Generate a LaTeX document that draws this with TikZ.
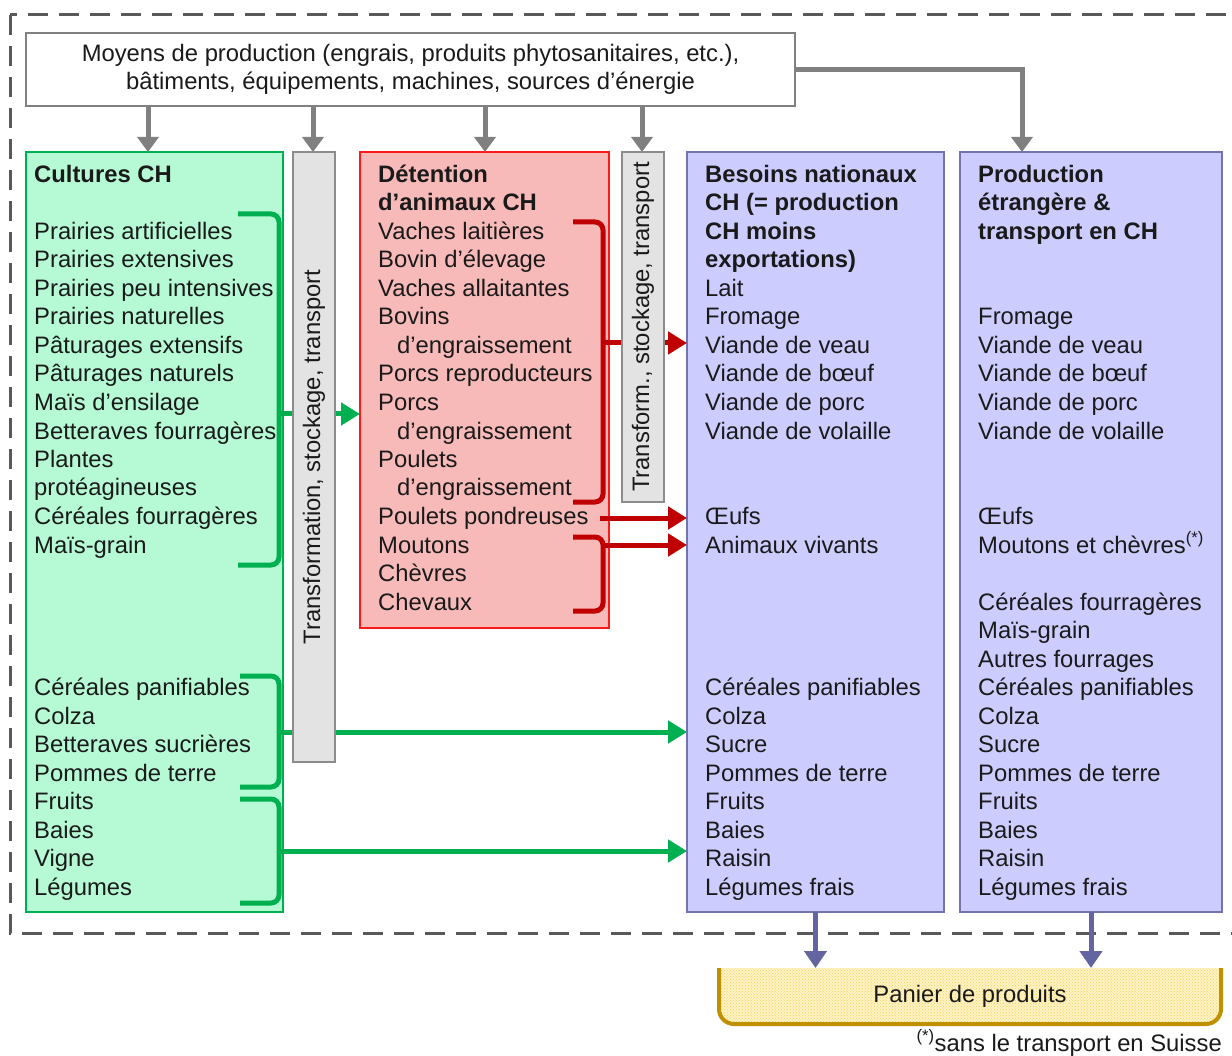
\documentclass[tikz,border=0pt]{standalone}
\usepackage{fontspec}
\setmainfont{Liberation Sans}
\usetikzlibrary{arrows.meta,patterns}
\definecolor{txtc}{HTML}{1A1A1A}
\definecolor{framec}{HTML}{595959}
\definecolor{grayarr}{HTML}{808080}
\definecolor{mint}{HTML}{B6FAD5}
\definecolor{greenl}{HTML}{00B050}
\definecolor{pinkf}{HTML}{F8B9B9}
\definecolor{redb}{HTML}{FF1A1A}
\definecolor{redl}{HTML}{C00000}
\definecolor{bluef}{HTML}{CCCCFF}
\definecolor{blueb}{HTML}{7373AD}
\definecolor{bluea}{HTML}{6464A0}
\definecolor{grayf}{HTML}{E3E3E3}
\definecolor{grayb}{HTML}{8C8C8C}
\definecolor{basketf}{HTML}{FFF3C4}
\definecolor{basketd}{HTML}{F5CF5A}
\definecolor{basketl}{HTML}{BF9000}
\newcommand{\itfont}{\fontsize{23.8}{28.5}\selectfont}
\tikzset{
  item/.style={font=\itfont, text=txtc, inner sep=0pt, anchor=base west},
  itembf/.style={item, font=\itfont\bfseries},
  boxn/.style={inner sep=0pt, outer sep=0pt, anchor=north west, line width=1.6pt},
  garrow/.style={draw=grayarr, line width=5pt, -{Triangle[length=15pt,width=21pt]}},
  rarrow/.style={draw=redl, line width=5pt, -{Triangle[length=19pt,width=22pt]}},
  grarrow/.style={draw=greenl, line width=5pt, -{Triangle[length=19pt,width=22pt]}},
  barrow/.style={draw=bluea, line width=5pt, -{Triangle[length=17pt,width=22pt]}},
  gbrk/.style={draw=greenl, line width=5pt, rounded corners=8pt},
  rbrk/.style={draw=redl, line width=5pt, rounded corners=8pt},
  tbox/.style={boxn, draw=grayb, fill=grayf}
}
\begin{document}
\begin{tikzpicture}[x=1pt,y=-1pt]
\useasboundingbox (0,0) rectangle (1232,1056);
\fill[white] (0,0) rectangle (1232,1056);
% dashed frame
\draw[framec, line width=3pt, dash pattern=on 20pt off 11pt] (10,15) rectangle (1250,933);

% top box
\node[draw=grayarr, line width=1.6pt, fill=white, minimum width=769pt, minimum height=73pt, inner sep=0pt,
      align=center, font=\fontsize{23.8}{28}\selectfont, text=txtc] (top) at (410.5,69.5)
  {Moyens de production (engrais, produits phytosanitaires, etc.),\\bâtiments, équipements, machines, sources d’énergie};

% main boxes
\node[boxn, draw=greenl, fill=mint, minimum width=257pt, minimum height=760pt] (cult) at (26,152) {};
\node[boxn, draw=redb, fill=pinkf, minimum width=249pt, minimum height=476pt] (anim) at (360,152) {};
\node[boxn, draw=blueb, fill=bluef, minimum width=257pt, minimum height=760pt] (bes) at (687,152) {};
\node[boxn, draw=blueb, fill=bluef, minimum width=262pt, minimum height=760pt] (etr) at (960,152) {};

% gray arrows from top
\draw[garrow] (148,0 |- top.south) -- (148,0 |- cult.north);
\draw[garrow] (313,0 |- top.south) -- (313,0 |- cult.north);
\draw[garrow] (485,0 |- top.south) -- (485,0 |- anim.north);
\draw[garrow] (642,0 |- top.south) -- (642,0 |- anim.north);
\draw[garrow] (top.east) -| (1022,0 |- etr.north);

% texts: Cultures CH
\node[itembf] (cuT) at (34,{182.5}) {Cultures CH};
\foreach \r/\lbl in {2/Prairies artificielles, 3/Prairies extensives, 4/Prairies peu intensives,
  5/Prairies naturelles, 6/Pâturages extensifs, 7/Pâturages naturels, 8/Maïs d’ensilage,
  9/Betteraves fourragères, 10/Plantes, 11/protéagineuses, 12/Céréales fourragères, 13/Maïs-grain,
  18/Céréales panifiables, 19/Colza, 20/Betteraves sucrières, 21/Pommes de terre, 22/Fruits,
  23/Baies, 24/Vigne, 25/Légumes}
  \node[item] (cu\r) at (34,{182.5+28.5*\r}) {\lbl};

% texts: animaux
\node[itembf] (anT1) at (378,{182.5}) {Détention};
\node[itembf] (anT2) at (378,{182.5+28.5}) {d’animaux CH};
\foreach \r/\xx/\lbl in {2/378/Vaches laitières, 3/378/Bovin d’élevage, 4/378/Vaches allaitantes,
  5/378/Bovins, 6/397/d’engraissement, 7/378/Porcs reproducteurs, 8/378/Porcs, 9/397/d’engraissement,
  10/378/Poulets, 11/397/d’engraissement, 12/378/Poulets pondreuses, 13/378/Moutons,
  14/378/Chèvres, 15/378/Chevaux}
  \node[item] (an\r) at (\xx,{182.5+28.5*\r}) {\lbl};

% texts: besoins
\foreach \r/\lbl in {0/Besoins nationaux, 1/CH (= production, 2/CH moins, 3/exportations)}
  \node[itembf] (beT\r) at (705,{182.5+28.5*\r}) {\lbl};
\foreach \r/\lbl in {4/Lait, 5/Fromage, 6/Viande de veau, 7/Viande de bœuf, 8/Viande de porc,
  9/Viande de volaille, 12/Œufs, 13/Animaux vivants, 18/Céréales panifiables, 19/Colza,
  20/Sucre, 21/Pommes de terre, 22/Fruits, 23/Baies, 24/Raisin, 25/Légumes frais}
  \node[item] (be\r) at (705,{182.5+28.5*\r}) {\lbl};

% texts: etranger
\foreach \r/\lbl in {0/Production, 1/étrangère \&, 2/transport en CH}
  \node[itembf] (etT\r) at (978,{182.5+28.5*\r}) {\lbl};
\foreach \r/\lbl in {5/Fromage, 6/Viande de veau, 7/Viande de bœuf, 8/Viande de porc,
  9/Viande de volaille, 12/Œufs, 13/Moutons et chèvres\textsuperscript{(*)}, 15/Céréales fourragères,
  16/Maïs-grain, 17/Autres fourrages, 18/Céréales panifiables, 19/Colza,
  20/Sucre, 21/Pommes de terre, 22/Fruits, 23/Baies, 24/Raisin, 25/Légumes frais}
  \node[item] (et\r) at (978,{182.5+28.5*\r}) {\lbl};

% green brackets and arrows
\draw[gbrk] (238,214) -| (279,565) -- (238,565);
\draw[gbrk] (240,676) -| (279,787) -- (240,787);
\draw[gbrk] (240,799) -| (279,903) -- (240,903);
\draw[grarrow] (279,414) -- (anim.west |- 0,414);
\draw[grarrow] (279,732) -- (bes.west |- 0,732);
\draw[grarrow] (279,851) -- (bes.west |- 0,851);

% red brackets and arrows
\draw[rbrk] (573,222) -| (603,502) -- (573,502);
\draw[rbrk] (573,537) -| (603,611) -- (573,611);
\draw[rarrow] (603,343) -- (bes.west |- 0,343);
\draw[rarrow] (600,518) -- (bes.west |- 0,518);
\draw[rarrow] (603,545) -- (bes.west |- 0,545);

% transformation boxes (on top)
\node[tbox, minimum width=42pt, minimum height=610pt] (tr1) at (293,152) {};
\node[rotate=90, font=\fontsize{23.8}{28}\selectfont, text=txtc, inner sep=0pt] (tr1t) at (tr1.center) {Transformation, stockage, transport};
\node[tbox, minimum width=42pt, minimum height=350pt] (tr2) at (622,152) {};
\node[rotate=90, font=\fontsize{23.8}{28}\selectfont, text=txtc, inner sep=0pt] (tr2t) at (tr2.center) {Transform., stockage, transport};

% basket
\coordinate (bktop) at (970,968);
\begin{scope}
  \clip (700,968) rectangle (1240,1040);
  \fill[basketf, rounded corners=15pt] (719,930) -- (719,1024) -- (1221,1024) -- (1221,930) -- cycle;
  \fill[pattern=crosshatch dots, pattern color=basketd, rounded corners=15pt] (719,930) -- (719,1024) -- (1221,1024) -- (1221,930) -- cycle;
\end{scope}
\draw[basketl, line width=4pt, rounded corners=15pt] (719,968) -- (719,1024) -- (1221,1024) -- (1221,968);
\node[font=\fontsize{23.8}{28}\selectfont, text=txtc, inner sep=0pt] (basket) at (970,996) {Panier de produits};
\draw[barrow] (bes.south) -- (bes.south |- bktop);
\draw[barrow] (etr.south) -- (etr.south |- bktop);

% footnote
\node[item, anchor=base east] (foot) at (1222,1051) {\textsuperscript{(*)}sans le transport en Suisse};
\end{tikzpicture}
\end{document}
